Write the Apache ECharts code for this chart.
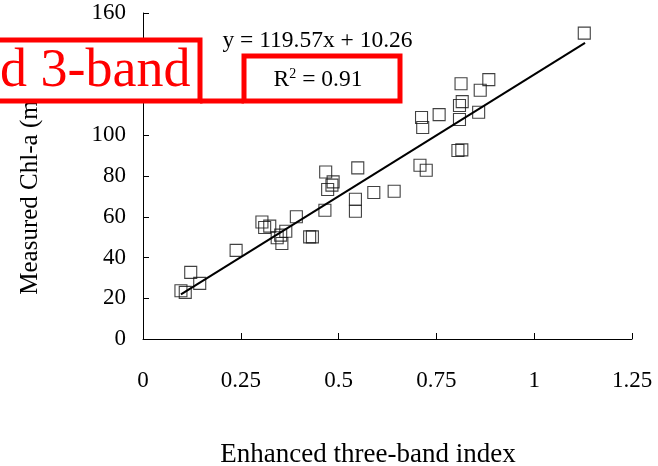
<!DOCTYPE html>
<html>
<head>
<meta charset="utf-8">
<script src="https://cdn.jsdelivr.net/npm/echarts@6/dist/echarts.min.js"></script>
<style>
html,body{margin:0;padding:0;background:#fff;}
#c{width:658px;height:466px;}
</style>
</head>
<body>
<div id="c"></div>
<script>
// Data
var indexValues = [1.128, 0.884, 0.813, 0.862, 0.816, 0.809, 0.858, 0.809, 0.757, 0.712, 0.715,
  0.805, 0.815, 0.708, 0.724, 0.642, 0.590,
  0.467, 0.549, 0.486, 0.483, 0.472, 0.543, 0.543, 0.465, 0.392,
  0.304, 0.311, 0.324, 0.365, 0.352, 0.343, 0.355, 0.426, 0.433,
  0.238, 0.122, 0.145, 0.097, 0.108];
var chlValues = [150.1, 127.3, 125.3, 122.1, 116.5, 114.6, 111.3, 107.7, 110.1, 108.7, 103.8,
  92.5, 92.8, 85.3, 82.8, 72.5, 71.9,
  82.0, 84.0, 77.1, 75.5, 73.4, 68.6, 62.7, 63.2, 60.0,
  57.4, 54.7, 55.4, 52.9, 51.0, 49.7, 46.9, 50.1, 50.1,
  43.5, 32.7, 27.3, 23.7, 22.9];
var fitSlope = 119.57;
var fitIntercept = 10.26;
var fitRange = [0.097, 1.13];
var xTicks = [0, 0.25, 0.5, 0.75, 1, 1.25];
var yTicks = [0, 20, 40, 60, 80, 100, 120, 140, 160];
var equationText = 'y = 119.57x + 10.26';
var r2Value = '0.91';
var xTitle = 'Enhanced three-band index';
var yTitle = 'Measured Chl-a (mg m';
var overlayText = 'd 3-band';

var points = indexValues.map(function (v, i) { return [v, chlValues[i]]; });
var fitLine = fitRange.map(function (x) { return [x, fitSlope * x + fitIntercept]; });

var FONT = '"Liberation Serif", "Times New Roman", serif';
var chart = echarts.init(document.getElementById('c'), null, {renderer: 'canvas'});
chart.setOption({
  backgroundColor: '#fff',
  animation: false,
  grid: {left: 143, right: 26, top: 13, bottom: 127},
  xAxis: {
    type: 'value', min: xTicks[0], max: xTicks[xTicks.length - 1], interval: 0.25,
    axisLine: {show: true, lineStyle: {color: '#000', width: 1}},
    axisTick: {show: true, inside: true, length: 6, lineStyle: {color: '#000'}},
    axisLabel: {margin: 30, color: '#000', fontFamily: FONT, fontSize: 23},
    splitLine: {show: false}
  },
  yAxis: {
    type: 'value', min: yTicks[0], max: yTicks[yTicks.length - 1], interval: 20,
    axisLine: {show: true, lineStyle: {color: '#000', width: 1}},
    axisTick: {show: true, inside: true, length: 6, lineStyle: {color: '#000'}},
    axisLabel: {margin: 17, color: '#000', fontFamily: FONT, fontSize: 23},
    splitLine: {show: false}
  },
  series: [
    {
      type: 'scatter', data: points, symbol: 'rect', symbolSize: 12,
      itemStyle: {color: 'rgba(0,0,0,0)', borderColor: '#111', borderWidth: 1.1},
      z: 2
    },
    {
      type: 'line', data: fitLine, symbol: 'none',
      lineStyle: {color: '#000', width: 2}, z: 3
    }
  ],
  graphic: [
    {type: 'text', x: 317.5, y: 41, z: 50,
      style: {text: equationText, fontFamily: FONT, fontSize: 23.5, fill: '#000', align: 'center', verticalAlign: 'middle'}},
    {type: 'text', x: 368, y: 455, z: 50,
      style: {text: xTitle, fontFamily: FONT, fontSize: 27, fill: '#000', align: 'center', verticalAlign: 'middle'}},
    {type: 'text', x: 30, y: 168, rotation: Math.PI / 2, z: 50,
      style: {
        text: yTitle + '{sup|-3})', fontFamily: FONT, fontSize: 25, fill: '#000', align: 'center', verticalAlign: 'middle',
        rich: {sup: {fontFamily: FONT, fontSize: 15, fill: '#000', verticalAlign: 'top', padding: [0, 0, 10, 0]}}
      }},
    // red annotation boxes
    {type: 'rect', z: 100, shape: {x: -10, y: 40, width: 210, height: 61},
      style: {fill: '#fff', stroke: '#ff0000', lineWidth: 5}},
    {type: 'rect', z: 100, shape: {x: 244, y: 56, width: 156, height: 45},
      style: {fill: '#fff', stroke: '#ff0000', lineWidth: 5}},
    {type: 'line', z: 100, shape: {x1: 200, y1: 101, x2: 244, y2: 101},
      style: {stroke: '#ff0000', lineWidth: 5}},
    {type: 'text', x: 0, y: 72, z: 110,
      style: {text: overlayText, fontFamily: FONT, fontSize: 54, fill: '#ff0000', align: 'left', verticalAlign: 'middle'}},
    {type: 'text', x: 318, y: 80, z: 110,
      style: {
        text: 'R{sup|2} = ' + r2Value, fontFamily: FONT, fontSize: 23.5, fill: '#000', align: 'center', verticalAlign: 'middle',
        rich: {sup: {fontFamily: FONT, fontSize: 14, fill: '#000', padding: [0, 0, 12, 0]}}
      }}
  ]
});
</script>
</body>
</html>
